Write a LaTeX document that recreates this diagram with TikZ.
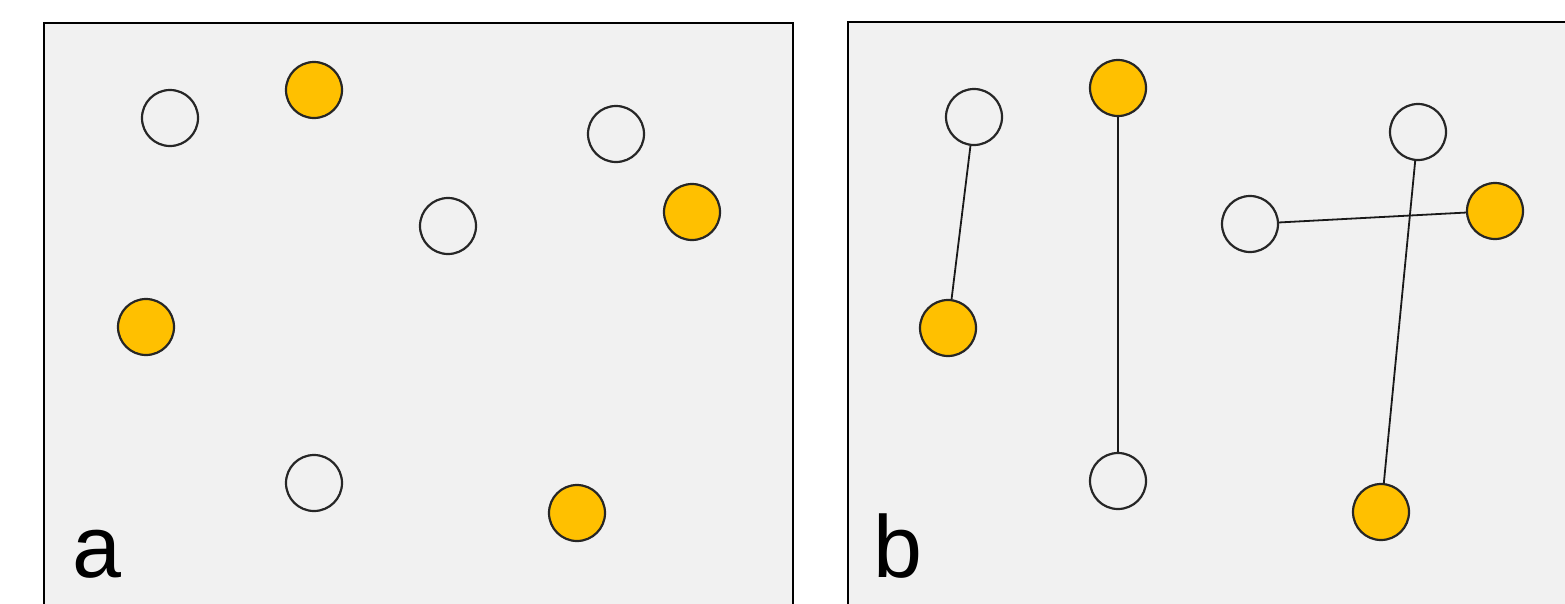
\documentclass[tikz,border=0pt]{standalone}
\usepackage{fontspec}
\setmainfont{Liberation Sans}
\definecolor{panelbg}{HTML}{F1F1F1}
\definecolor{dotyellow}{HTML}{FFC000}
\begin{document}
\begin{tikzpicture}[x=1pt,y=-1pt,
  panel/.style={draw=black,line width=2.5pt,fill=panelbg},
  wdot/.style={circle,draw=black!85,line width=2.2pt,fill=panelbg,minimum size=56pt,inner sep=0pt},
  ydot/.style={circle,draw=black!85,line width=2.2pt,fill=dotyellow,minimum size=56pt,inner sep=0pt},
  link/.style={draw=black!90,line width=1.8pt},
  lbl/.style={anchor=base west,inner sep=0pt,font=\fontsize{88}{88}\selectfont}]
\useasboundingbox (0,0) rectangle (1565,603);
\clip (0,0) rectangle (1565,603);
\fill[white] (0,0) rectangle (1565,603);
% panel a
\draw[panel] (44,23) rectangle (793,640);
\node[wdot] (a1) at (170,118) {};
\node[ydot] (a2) at (314,90) {};
\node[wdot] (a3) at (616,134) {};
\node[wdot] (a4) at (448,226) {};
\node[ydot] (a5) at (692,212) {};
\node[ydot] (a6) at (146,327) {};
\node[wdot] (a7) at (314,483) {};
\node[ydot] (a8) at (577,513) {};
\node[lbl] (la) at (72,577) {a};
% panel b
\draw[panel] (848,22) rectangle (1600,640);
\node[wdot] (b1) at (974,117) {};
\node[ydot] (b2) at (1118,88) {};
\node[wdot] (b3) at (1418,132) {};
\node[wdot] (b4) at (1250,224) {};
\node[ydot] (b5) at (1495,211) {};
\node[ydot] (b6) at (948,328) {};
\node[wdot] (b7) at (1118,481) {};
\node[ydot] (b8) at (1381,512) {};
\draw[link] (b1) -- (b6);
\draw[link] (b2) -- (b7);
\draw[link] (b3) -- (b8);
\draw[link] (b4) -- (b5);
\node[lbl] (lb) at (873,577) {b};
\end{tikzpicture}
\end{document}
